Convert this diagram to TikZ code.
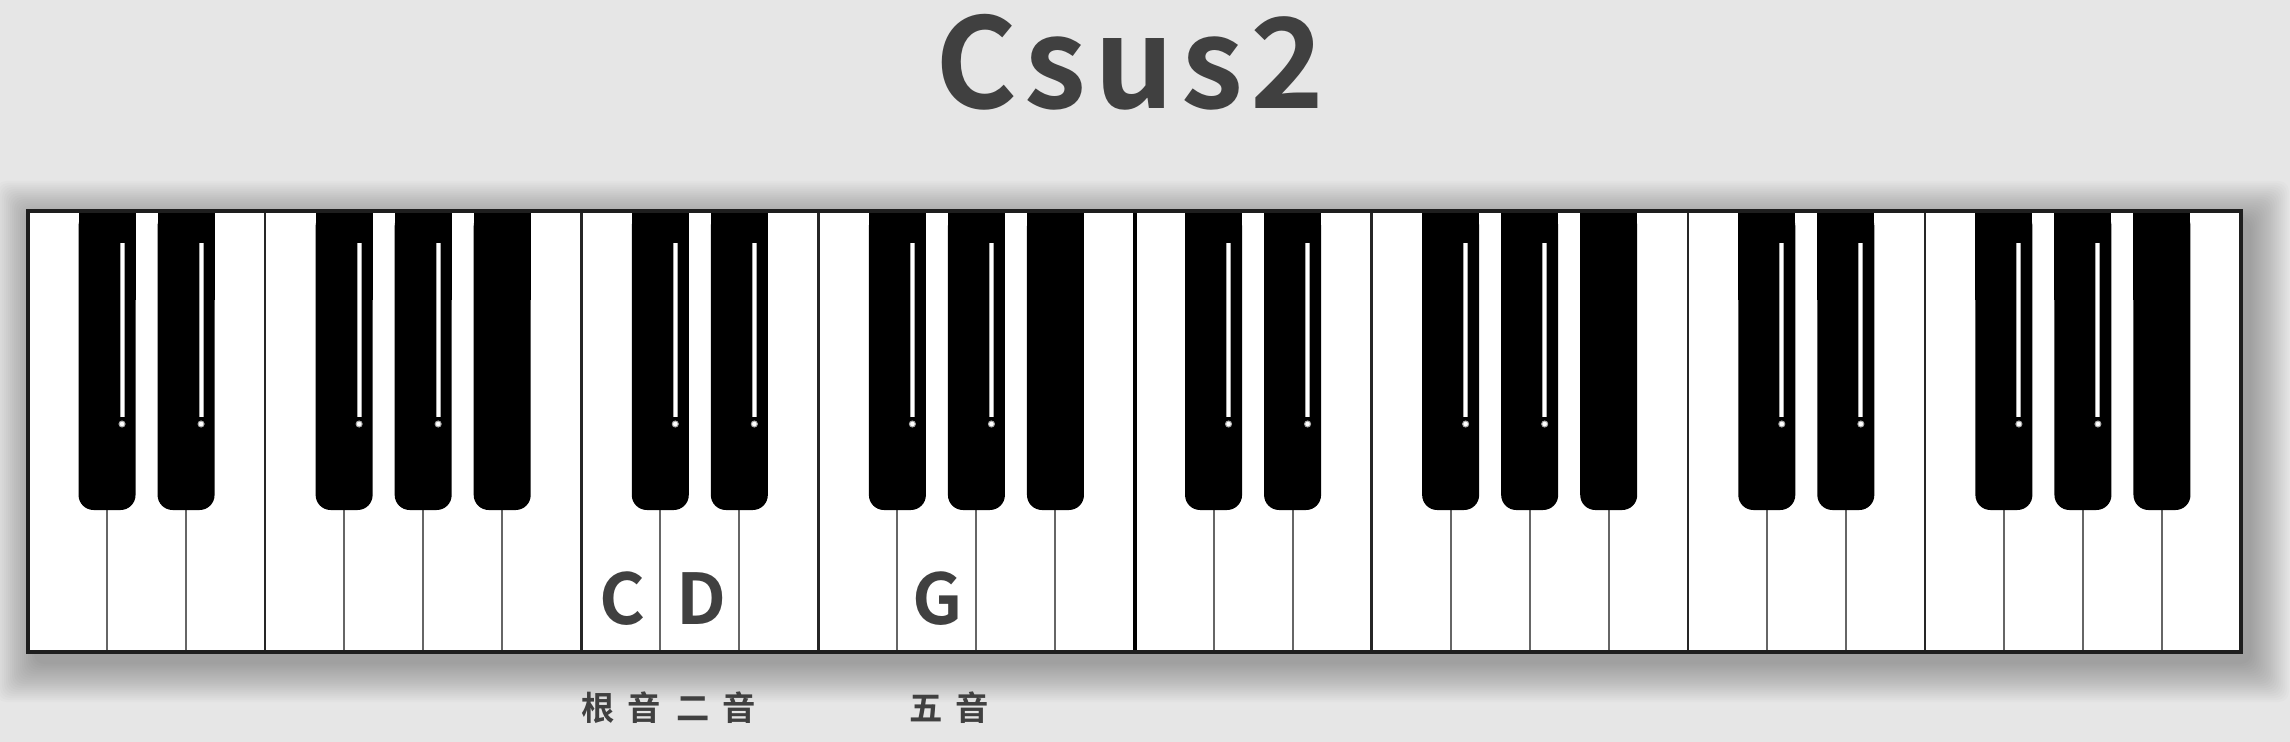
\documentclass[tikz,border=0pt]{standalone}
\usepackage{fontspec}
\newfontfamily\cjk{Noto Sans CJK SC}
\newfontfamily\cjkbold{Noto Sans CJK SC Bold}
\definecolor{bg}{HTML}{E6E6E6}
\definecolor{txt}{HTML}{404040}
\definecolor{frame}{HTML}{1E1E1E}
\begin{document}
\begin{tikzpicture}[x=0.3pt,y=-0.3pt,
  title/.style={font=\cjkbold\fontsize{37.5}{44}\selectfont\addfontfeature{LetterSpace=6}, text=txt, anchor=base, inner sep=0pt},
  notelbl/.style={font=\cjkbold\fontsize{21}{25}\selectfont, text=txt, anchor=base, inner sep=0pt},
  sublbl/.style={font=\cjkbold\fontsize{10}{12}\selectfont, text=txt, anchor=center, inner sep=0pt},
  blackkey/.style={fill=black},
  shortsep/.style={draw=black!60, line width=0.6pt},
  longsep/.style={draw=black!85, line width=0.75pt},
  midsep/.style={draw=black, line width=1.2pt},
  kbframe/.style={draw=frame, line width=1pt}]
\pgfmathsetmacro{\W}{2213/28}
\useasboundingbox (0,0) rectangle (2290,742);
\fill[bg] (0,0) rectangle (2290,742);
% shadow
\foreach \i in {1,...,20}{
  \fill[black, opacity=0.015, rounded corners=3pt] (28+8-2*\i,211+10-2*\i) rectangle (2241+8+2*\i,652+10+2*\i);
}
% white keys
\fill[white] (28,211) rectangle (2241,652);
% separators
\foreach \i in {1,...,27}{
  \pgfmathtruncatemacro{\m}{mod(\i,7)}
  \pgfmathsetmacro{\xx}{28+\i*\W}
  \ifnum\i=14
    \draw[midsep] (\xx,211) -- (\xx,652);
  \else
    \ifnum\m=0
      \draw[longsep] (\xx,211) -- (\xx,652);
    \else\ifnum\m=3
      \draw[longsep] (\xx,211) -- (\xx,652);
    \else
      \draw[shortsep] (\xx,505) -- (\xx,652);
    \fi\fi
  \fi
}
% black keys
\foreach \o in {0,1,2,3}{
  \foreach \b in {1,2,4,5,6}{
    \pgfmathsetmacro{\cx}{28+(7*\o+\b)*\W}
    \fill[blackkey, rounded corners=4.5pt] (\cx-28.5,211) rectangle (\cx+28.5,510);
    \fill[blackkey] (\cx-28.5,211) rectangle (\cx+28.5,300);
    \ifnum\b<6
      \draw[black!35, line width=1.5pt] (\cx+15,243) -- (\cx+15,417);
      \draw[white, line width=0.9pt] (\cx+15,243.5) -- (\cx+15,416.5);
      \fill[white, draw=black!35, line width=0.3pt] (\cx+15,424) circle[radius=0.9pt];
    \fi
  }
}
% frame
\draw[kbframe] (28,211) rectangle (2241,652);
% texts
\node[title] (ttl) at (1130,109) {Csus2};
\node[notelbl] (nc) at (622,624) {C};
\node[notelbl] (nd) at (701,624) {D};
\node[notelbl] (ng) at (938,624) {G};
\node[sublbl] (l1) at (621.5,708) {根\hspace{3.9pt}音};
\node[sublbl] (l2) at (716,708) {二\hspace{3.9pt}音};
\node[sublbl] (l3) at (949,708) {五\hspace{3.9pt}音};
\end{tikzpicture}
\end{document}
